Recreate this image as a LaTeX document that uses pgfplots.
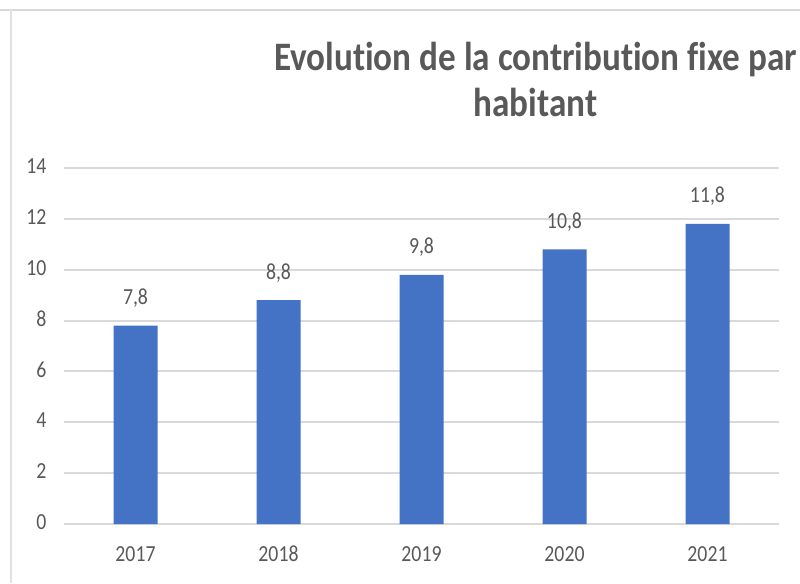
\documentclass[border=0pt]{standalone}
\usepackage{fontspec}
\setmainfont{Carlito}[FakeStretch=0.86,Ligatures={NoCommon}]
\newfontfamily\titlefont[FakeStretch=0.87,Ligatures={NoCommon}]{Carlito}
\usepackage{pgfplots}
\pgfplotsset{compat=1.18}
\definecolor{barblue}{HTML}{4472C4}
\definecolor{txtgray}{HTML}{595959}
\definecolor{gridgray}{HTML}{D9D9D9}
\definecolor{framegray}{HTML}{DEE2E8}
\begin{document}
\begin{tikzpicture}[x=0.75pt,y=0.75pt]
\useasboundingbox (0,0) rectangle (800,583);
\fill[white] (0,0) rectangle (800,583);
\draw[gridgray, line width=1.5pt] (0,573) -- (800,573);
\draw[framegray, line width=2.2pt] (11,573) -- (11,0);
\node[anchor=base, text=txtgray, font=\titlefont\fontsize{30.3}{36}\selectfont\bfseries, inner sep=0pt] at (535.5,512) {Evolution de la contribution fixe par};
\node[anchor=base, text=txtgray, font=\titlefont\fontsize{30.3}{36}\selectfont\bfseries, inner sep=0pt] at (535.5,466) {habitant};
\begin{axis}[
  at={(48pt,44.25pt)}, anchor=south west,
  scale only axis, width=536.25pt, height=267pt,
  xmin=-0.5, xmax=4.5, ymin=0, ymax=14,
  xtick=data, xticklabels={2017,2018,2019,2020,2021},
  ytick={0,2,...,14},
  ymajorgrids, grid style={gridgray, line width=1.5pt},
  axis line style={draw=none},
  major tick length=0pt,
  tick label style={text=txtgray, font=\fontsize{17.25}{20}\selectfont},
  /pgf/number format/assume math mode=true,
  yticklabel style={anchor=east, inner sep=0pt, xshift=-13pt, yshift=1.5pt},
  xticklabel style={anchor=base, inner sep=0pt, yshift=-27.75pt},
  nodes near coords,
  nodes near coords style={anchor=base, inner sep=0pt, yshift=15.75pt, text=txtgray, font=\fontsize{17.25}{20}\selectfont, /pgf/number format/.cd, fixed, fixed zerofill, precision=1, use comma, assume math mode=true},
  clip=false,
]
\addplot[ybar, bar width=33pt, fill=barblue, draw=none] coordinates {(0,7.8) (1,8.8) (2,9.8) (3,10.8) (4,11.8)};
\end{axis}
\end{tikzpicture}
\end{document}
